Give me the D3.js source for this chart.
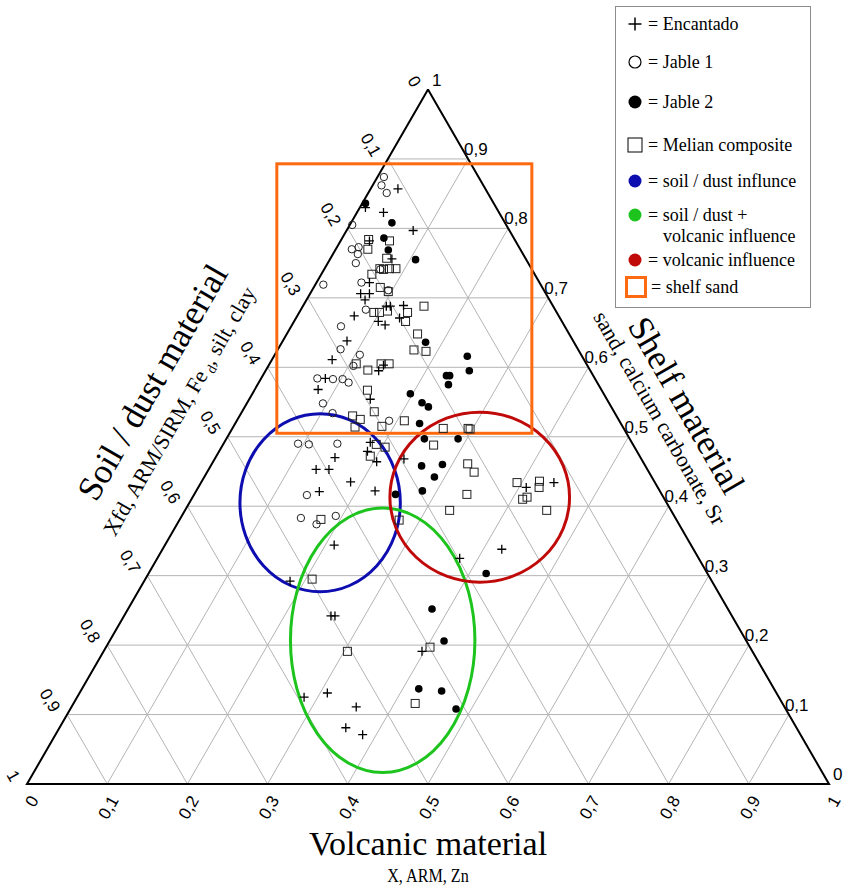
<!DOCTYPE html>
<html><head><meta charset="utf-8">
<script src="https://cdn.jsdelivr.net/npm/d3@7"></script>
<style>body{margin:0;background:#fff}</style>
</head><body><svg id="c" width="852" height="888"></svg>
<script>
// compositions: [soil/dust, volcanic, shelf]
const encantado = [[.110,.034,.857],[.163,.007,.830],[.145,.033,.823],[.120,.083,.797],[.183,.036,.782],[.167,.077,.756],[.212,.066,.722],[.231,.063,.706],[.220,.074,.706],[.230,.073,.697],[.208,.104,.688],[.203,.109,.688],[.186,.125,.689],[.255,.071,.674],[.200,.129,.671],[.229,.105,.666],[.223,.116,.661],[.282,.080,.638],[.314,.075,.611],[.264,.141,.595],[.254,.143,.603],[.336,.080,.584],[.353,.079,.568],[.295,.151,.554],[.326,.182,.492],[.336,.185,.479],[.332,.204,.464],[.381,.149,.470],[.413,.134,.453],[.397,.150,.453],[.379,.186,.435],[.425,.154,.421],[.355,.223,.422],[.296,.236,.468],[.164,.409,.427],[.126,.440,.434],[.445,.211,.344],[.239,.423,.338],[.298,.377,.325],[.526,.182,.292],[.500,.258,.242],[.495,.263,.242],[.412,.397,.191],[.592,.283,.125],[.560,.309,.131],[.534,.355,.111],[.562,.357,.081],[.546,.383,.071]];
const jable1 = [[.117,.008,.874],[.127,.011,.862],[.126,.023,.851],[.192,.003,.805],[.210,.020,.770],[.200,.027,.773],[.206,.031,.763],[.215,.035,.750],[.271,.010,.719],[.222,.056,.722],[.189,.070,.741],[.194,.095,.711],[.236,.081,.683],[.279,.062,.659],[.295,.078,.626],[.276,.106,.618],[.292,.106,.602],[.346,.070,.584],[.327,.090,.583],[.315,.102,.583],[.310,.112,.578],[.357,.095,.548],[.287,.190,.523],[.352,.114,.534],[.418,.093,.490],[.404,.107,.489],[.368,.142,.490],[.443,.141,.416],[.467,.150,.383],[.452,.174,.374],[.422,.192,.386]];
const jable2 = [[.160,.004,.836],[.141,.051,.808],[.162,.052,.786],[.165,.066,.769],[.139,.107,.755],[.186,.179,.636],[.142,.241,.616],[.151,.254,.595],[.184,.229,.588],[.180,.233,.588],[.187,.238,.575],[.242,.197,.562],[.233,.218,.549],[.227,.229,.543],[.251,.230,.519],[.256,.247,.497],[.214,.289,.497],[.278,.263,.458],[.252,.288,.460],[.271,.287,.442],[.296,.282,.422],[.332,.251,.417],[.276,.421,.303],[.369,.379,.252],[.377,.417,.206],[.443,.420,.137],[.417,.450,.134],[.412,.481,.108]];
const melian = [[.181,.034,.784],[.158,.061,.782],[.190,.040,.770],[.173,.070,.757],[.189,.069,.742],[.185,.074,.741],[.177,.081,.742],[.169,.089,.742],[.203,.063,.734],[.202,.083,.715],[.195,.096,.709],[.160,.151,.688],[.229,.093,.679],[.221,.100,.679],[.210,.109,.681],[.186,.135,.679],[.195,.139,.666],[.189,.163,.648],[.205,.170,.625],[.191,.186,.623],[.287,.108,.605],[.277,.127,.596],[.256,.139,.605],[.246,.149,.605],[.292,.141,.567],[.299,.165,.536],[.329,.141,.530],[.322,.153,.525],[.268,.209,.523],[.334,.152,.514],[.300,.185,.515],[.320,.191,.489],[.311,.204,.485],[.336,.192,.472],[.225,.263,.512],[.194,.294,.512],[.192,.297,.511],[.249,.263,.488],[.220,.319,.461],[.218,.333,.449],[.242,.340,.417],[.276,.330,.394],[.172,.394,.434],[.143,.421,.436],[.148,.425,.427],[.177,.413,.410],[.170,.417,.413],[.155,.451,.394],[.443,.176,.381],[.346,.274,.380],[.497,.208,.295],[.506,.304,.191],[.400,.404,.197],[.458,.426,.116]];

// interpretation zones (centre composition, radii as fraction of base)
const zones = [
  {name:"soil / dust influnce", center:[.432,.163,.405], rx:.100, ry:.111, color:"#0d0db0"},
  {name:"soil / dust + volcanic influence", center:[.453,.340,.207], rx:.115, ry:.165, color:"#1ec41e"},
  {name:"volcanic influence", center:[.229,.358,.413], rx:.112, ry:.106, color:"#c00a0a"}
];
const shelfBox = {corner1:[.242,-.135,.893], corner2:[.118,.377,.505], color:"#ff6a10"};

const ticks = [0,.1,.2,.3,.4,.5,.6,.7,.8,.9,1];
const tickLabels = ["0","0,1","0,2","0,3","0,4","0,5","0,6","0,7","0,8","0,9","1"];

const svg = d3.select("#c");
const SQ = Math.sqrt(3)/2;
const x = d3.scaleLinear().domain([0,1]).range([27,829]);
const y = d3.scaleLinear().domain([0,SQ]).range([784,89.5]);
const px = d => x(d[1] + d[2]/2), py = d => y(d[2]*SQ);
const line = d3.line().x(px).y(py);

// grid
const grid = svg.append("g").attr("stroke","#b4b4b4").attr("stroke-width",1).attr("fill","none");
ticks.slice(1,-1).forEach(k=>{
  grid.append("path").attr("d", line([[1-k,0,k],[0,1-k,k]]));
  grid.append("path").attr("d", line([[k,1-k,0],[k,0,1-k]]));
  grid.append("path").attr("d", line([[1-k,k,0],[0,k,1-k]]));
});
// border
svg.append("path").attr("d", line([[0,0,1],[1,0,0],[0,1,0],[0,0,1]]))
  .attr("fill","none").attr("stroke","#000").attr("stroke-width",2).attr("stroke-linejoin","miter");

// zones
zones.forEach(z=>{
  svg.append("ellipse").attr("cx",px(z.center)).attr("cy",py(z.center))
    .attr("rx", x(z.rx)-x(0)).attr("ry", x(z.ry)-x(0))
    .attr("fill","none").attr("stroke",z.color).attr("stroke-width",3);
});
{
  const x1=px(shelfBox.corner1), y1=py(shelfBox.corner1), x2=px(shelfBox.corner2), y2=py(shelfBox.corner2);
  svg.append("rect").attr("x",Math.min(x1,x2)).attr("y",Math.min(y1,y2))
    .attr("width",Math.abs(x2-x1)).attr("height",Math.abs(y2-y1))
    .attr("fill","none").attr("stroke",shelfBox.color).attr("stroke-width",3);
}

// points
const pts = svg.append("g");
pts.selectAll(".m").data(melian).join("rect")
  .attr("x",d=>px(d)-4).attr("y",d=>py(d)-4).attr("width",8).attr("height",8)
  .attr("fill","none").attr("stroke","#222").attr("stroke-width",1);
pts.selectAll(".j1").data(jable1).join("circle")
  .attr("cx",px).attr("cy",py).attr("r",3.7)
  .attr("fill","none").attr("stroke","#222").attr("stroke-width",1);
pts.selectAll(".j2").data(jable2).join("circle")
  .attr("cx",px).attr("cy",py).attr("r",3.8).attr("fill","#000");
pts.selectAll(".e").data(encantado).join("path")
  .attr("d",d=>`M${px(d)-4.5},${py(d)}H${px(d)+4.5}M${px(d)},${py(d)-4.5}V${py(d)+4.5}`)
  .attr("stroke","#000").attr("stroke-width",1.3);

// tick labels
const tl = svg.append("g").attr("font-family","Liberation Sans, Arial, sans-serif").attr("font-size",17).attr("fill","#000");
ticks.forEach((k,i)=>{
  const L=[k,0,1-k];
  tl.append("text").attr("transform",`translate(${px(L)-11},${py(L)-4}) rotate(60)`)
    .attr("text-anchor","end").attr("dy","0.35em").text(tickLabels[i]);
  const B=[1-k,k,0];
  tl.append("text").attr("transform",`translate(${px(B)+7},${py(B)+13}) rotate(-60)`)
    .attr("text-anchor","end").attr("dy","0.35em").text(tickLabels[i]);
  const R=[0,1-k,k];
  const off = (k===0||k===1)?4:-4;
  tl.append("text").attr("x",px(R)+off).attr("y",py(R)-4).text(tickLabels[i]);
});

// axis titles
const serif = "Liberation Serif, Times New Roman, serif";
svg.append("text").attr("transform","translate(152,382) rotate(-60)").attr("text-anchor","middle")
  .attr("dy","0.35em").attr("font-family",serif).attr("font-size",35).text("Soil / dust material");
{
  const t = svg.append("text").attr("transform","translate(179,411) rotate(-60)").attr("text-anchor","middle")
    .attr("dy","0.35em").attr("font-family",serif).attr("font-size",22);
  t.append("tspan").text("Xfd, ARM/SIRM, Fe");
  t.append("tspan").attr("font-size",14).attr("dy",4).text(" d");
  t.append("tspan").attr("dy",-4).text(", silt, clay");
}
svg.append("text").attr("transform","translate(687,405) rotate(60)").attr("text-anchor","middle")
  .attr("dy","0.35em").attr("font-family",serif).attr("font-size",35).text("Shelf material");
svg.append("text").attr("transform","translate(660,418) rotate(60)").attr("text-anchor","middle")
  .attr("dy","0.35em").attr("font-family",serif).attr("font-size",22).text("sand, calcium carbonate, Sr");
svg.append("text").attr("x",428).attr("y",855).attr("text-anchor","middle")
  .attr("font-family",serif).attr("font-size",34).text("Volcanic material");
svg.append("text").attr("transform","translate(428,882) scale(0.85,1)").attr("text-anchor","middle")
  .attr("font-family",serif).attr("font-size",19).text("X, ARM, Zn");

// legend
const legendItems = [
  {sym:"plus", y:24, lines:["= Encantado"]},
  {sym:"circle", y:62, lines:["= Jable 1"]},
  {sym:"dot", color:"#000", y:102, lines:["= Jable 2"]},
  {sym:"square", y:145, lines:["= Melian composite"]},
  {sym:"dot", color:zones[0].color, y:181, lines:["= soil / dust influnce"]},
  {sym:"dot", color:zones[1].color, y:215, lines:["= soil / dust +","volcanic influence"]},
  {sym:"dot", color:zones[2].color, y:260, lines:["= volcanic influence"]},
  {sym:"box", color:shelfBox.color, y:287, lines:["= shelf sand"]}
];
const lg = svg.append("g");
lg.append("rect").attr("x",615.5).attr("y",6.5).attr("width",195).attr("height",301)
  .attr("fill","#fff").attr("stroke","#8c8c8c").attr("stroke-width",1);
legendItems.forEach(it=>{
  const cx=635, cy=it.y;
  if(it.sym==="plus") lg.append("path").attr("d",`M${cx-6.5},${cy}H${cx+6.5}M${cx},${cy-6.5}V${cy+6.5}`).attr("stroke","#000").attr("stroke-width",1.5);
  if(it.sym==="circle") lg.append("circle").attr("cx",cx).attr("cy",cy).attr("r",6).attr("fill","none").attr("stroke","#000").attr("stroke-width",1.2);
  if(it.sym==="dot") lg.append("circle").attr("cx",cx).attr("cy",cy).attr("r",6.5).attr("fill",it.color);
  if(it.sym==="square") lg.append("rect").attr("x",cx-7).attr("y",cy-7).attr("width",14).attr("height",14).attr("fill","none").attr("stroke","#000").attr("stroke-width",1);
  if(it.sym==="box") lg.append("rect").attr("x",cx-8.5).attr("y",cy-9.5).attr("width",19).attr("height",19).attr("fill","none").attr("stroke",it.color).attr("stroke-width",3);
  it.lines.forEach((s,j)=>{
    lg.append("text").attr("x", j===0 ? (it.sym==="box"?651:648) : 663).attr("y",cy+6+j*21)
      .attr("font-family",serif).attr("font-size",18).text(s);
  });
});
</script></body></html>
